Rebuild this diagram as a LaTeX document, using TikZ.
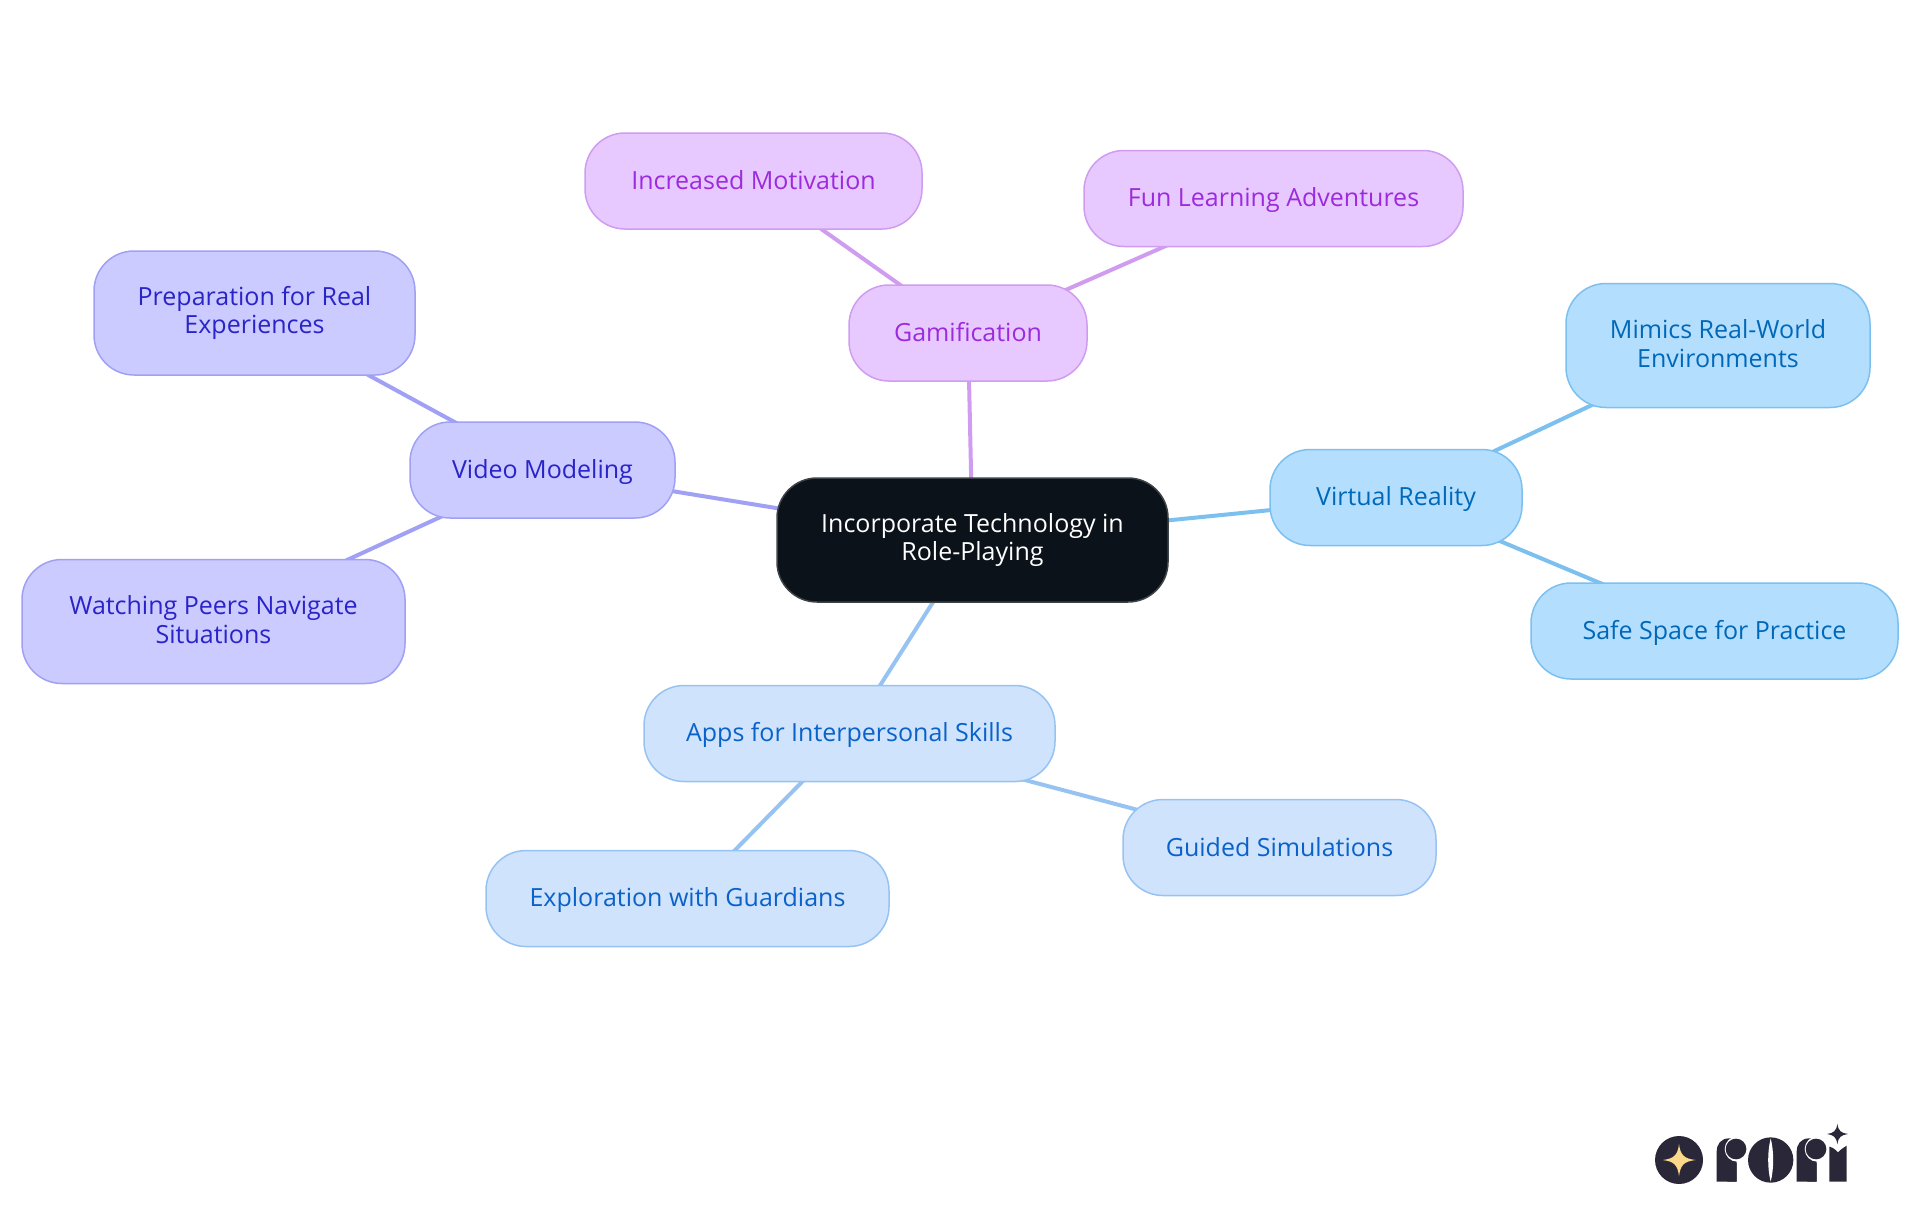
\documentclass[tikz,border=0pt]{standalone}
\usepackage{fontspec}
\setmainfont{Open Sans}
\usetikzlibrary{backgrounds}
\definecolor{rootfill}{HTML}{0B1219}\definecolor{rootline}{HTML}{3E4347}
\definecolor{gfill}{HTML}{E8C9FF}\definecolor{gline}{HTML}{CF9CF0}\definecolor{gtext}{HTML}{9B2BDC}
\definecolor{vfill}{HTML}{CBCBFF}\definecolor{vline}{HTML}{A0A0F5}\definecolor{vtext}{HTML}{2A23C8}
\definecolor{bfill}{HTML}{B4DEFE}\definecolor{bline}{HTML}{7CC0F0}\definecolor{btext}{HTML}{0068B8}
\definecolor{afill}{HTML}{CFE3FC}\definecolor{aline}{HTML}{97C3F2}\definecolor{atext}{HTML}{0A62C8}
\definecolor{logodark}{HTML}{2A2838}\definecolor{logostar}{HTML}{FCD98A}
\newcommand{\mapstrut}{\rule[-2.4pt]{0pt}{13.4pt}}
\tikzset{
  x=0.5pt,y=-0.5pt,
  mapnode/.style={rounded corners=20pt,line width=0.75pt,align=center,inner sep=0pt,
    font=\fontsize{12.5pt}{14.4pt}\selectfont,
    execute at begin node=\mapstrut,execute at end node=\mapstrut},
  one/.style={minimum height=48pt},
  two/.style={minimum height=62pt},
  rootnode/.style={mapnode,two,fill=rootfill,draw=rootline,text=white},
  gnode/.style={mapnode,fill=gfill,draw=gline,text=gtext},
  vnode/.style={mapnode,fill=vfill,draw=vline,text=vtext},
  bnode/.style={mapnode,fill=bfill,draw=bline,text=btext},
  anode/.style={mapnode,fill=afill,draw=aline,text=atext},
  link/.style={line width=2pt},
}
\begin{document}
\begin{tikzpicture}
\useasboundingbox (0,0) rectangle (1920,1215);
\node[rootnode,minimum width=195.5pt] (root) at (972.5,540) {Incorporate Technology in\\Role-Playing};
\node[gnode,one,minimum width=119pt] (gam) at (968,333) {Gamification};
\node[gnode,one,minimum width=168.5pt] (inc) at (753.5,181) {Increased Motivation};
\node[gnode,one,minimum width=189.5pt] (fun) at (1273.5,198.5) {Fun Learning Adventures};
\node[vnode,one,minimum width=132.5pt] (vid) at (542.5,470) {Video Modeling};
\node[vnode,two,minimum width=160.5pt] (pre) at (254.5,313) {Preparation for Real\\Experiences};
\node[vnode,two,minimum width=191.5pt] (wat) at (213.5,621.5) {Watching Peers Navigate\\Situations};
\node[bnode,one,minimum width=126pt] (vr) at (1396,497.5) {Virtual Reality};
\node[bnode,two,minimum width=152pt] (mim) at (1718,345.5) {Mimics Real-World\\Environments};
\node[bnode,one,minimum width=183.5pt] (saf) at (1714.5,631) {Safe Space for Practice};
\node[anode,one,minimum width=205.5pt] (app) at (849.5,733.5) {Apps for Interpersonal Skills};
\node[anode,one,minimum width=156.5pt] (gui) at (1279.5,847.5) {Guided Simulations};
\node[anode,one,minimum width=201.5pt] (exp) at (687.5,898.5) {Exploration with Guardians};
\begin{scope}[on background layer]
\draw[link,gline] (root.center) -- (gam.center);
\draw[link,gline] (gam.center) -- (inc.center);
\draw[link,gline] (gam.center) -- (fun.center);
\draw[link,vline] (root.center) -- (vid.center);
\draw[link,vline] (vid.center) -- (pre.center);
\draw[link,vline] (vid.center) -- (wat.center);
\draw[link,bline] (root.center) -- (vr.center);
\draw[link,bline] (vr.center) -- (mim.center);
\draw[link,bline] (vr.center) -- (saf.center);
\draw[link,aline] (root.center) -- (app.center);
\draw[link,aline] (app.center) -- (gui.center);
\draw[link,aline] (app.center) -- (exp.center);
\end{scope}
% logo drawn as shapes, coordinates in 1/3 px
\begin{scope}[shift={(1630,1105)},x=0.16667pt,y=-0.16667pt]
\fill[logodark] (147,165) circle[radius=72];
\fill[logostar] (147,117) .. controls (151,150) and (162,161) .. (197,165) .. controls (162,169) and (151,180) .. (147,214) .. controls (143,180) and (132,169) .. (98,165) .. controls (132,161) and (143,150) .. (147,117) -- cycle;
\foreach \dx in {0,240}{
  \fill[logodark] (260+\dx,230) -- (260+\dx,140) .. controls (260+\dx,118) and (272+\dx,100) .. (298+\dx,100) -- (320+\dx,100) -- (320+\dx,230) -- cycle;
  \fill[white] (322+\dx,132) circle[radius=38];
  \fill[white] (322+\dx,100) rectangle (365+\dx,170);
  \fill[logodark] (318+\dx,132) circle[radius=31];
  \fill[logodark] (292+\dx,165) -- (320+\dx,175) -- (320+\dx,230) -- (292+\dx,230) -- cycle;
}
\fill[logodark] (422,165) circle[radius=68];
\fill[white] (422,100) .. controls (432,140) and (432,190) .. (422,230) .. controls (412,190) and (412,140) .. (422,100) -- cycle;
\fill[logodark] (598,230) -- (598,125) .. controls (610,128) and (618,135) .. (624,142) .. controls (630,135) and (640,128) .. (650,122) -- (650,230) -- cycle;
\fill[logodark] (622,56) .. controls (625,78) and (633,84) .. (654,87) .. controls (633,90) and (625,96) .. (622,118) .. controls (619,96) and (611,90) .. (591,87) .. controls (611,84) and (619,78) .. (622,56) -- cycle;
\end{scope}
\end{tikzpicture}
\end{document}
